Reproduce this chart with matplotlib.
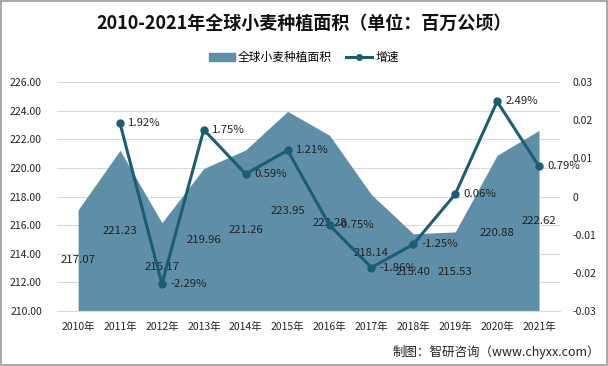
import matplotlib
matplotlib.use("Agg")
import matplotlib.pyplot as plt
from matplotlib.patches import Patch
from matplotlib.lines import Line2D

plt.rcParams["font.family"] = ["Noto Sans CJK SC", "DejaVu Sans"]

years = ["2010年", "2011年", "2012年", "2013年", "2014年", "2015年",
         "2016年", "2017年", "2018年", "2019年", "2020年", "2021年"]
area = [217.07, 221.23, 216.17, 219.96, 221.26, 223.95,
        222.28, 218.14, 215.40, 215.53, 220.88, 222.62]
growth = [None, 0.0192, -0.0229, 0.0175, 0.0059, 0.0121,
          -0.0075, -0.0186, -0.0125, 0.0006, 0.0249, 0.0079]
growth_labels = ["", "1.92%", "-2.29%", "1.75%", "0.59%", "1.21%",
                 "-0.75%", "-1.86%", "-1.25%", "0.06%", "2.49%", "0.79%"]
left_ticks = [210 + 2 * i for i in range(9)]
right_ticks = [-0.03, -0.02, -0.01, 0, 0.01, 0.02, 0.03]
right_tick_labels = ["-0.03", "-0.02", "-0.01", "0", "0.01", "0.02", "0.03"]

AREA_C = "#5F8FA7"
LINE_C = "#1A5E74"
TXT = "#222222"

fig = plt.figure(figsize=(6.08, 3.66), dpi=100)
ax = fig.add_axes([0.094, 0.150, 0.827, 0.626])
x = list(range(len(years)))

ax.fill_between(x, 210, area, color=AREA_C, lw=0, zorder=2)
ax.set_xlim(-0.5, len(years) - 0.5)
ax.set_ylim(210, 226)
ax.set_yticks(left_ticks)
ax.set_yticklabels([f"{v:.2f}" for v in left_ticks])
ax.set_xticks(x)
ax.set_xticklabels(years)
ax.grid(axis="y", color="#D9D9D9", lw=0.8, zorder=0)
ax.set_axisbelow(True)
for s in ["top", "right", "left"]:
    ax.spines[s].set_visible(False)
ax.spines["bottom"].set_color("#D9D9D9")
ax.tick_params(axis="y", length=0, labelsize=7.5, colors=TXT, pad=11)
ax.tick_params(axis="x", length=0, labelsize=7.5, colors=TXT, pad=8)

# area labels sit halfway between the axis floor and the value
for xi, v in zip(x, area):
    ax.text(xi, (v + 210) / 2, f"{v:.2f}", ha="center", va="center",
            fontsize=8.2, color=TXT, zorder=5)

ax2 = ax.twinx()
gx = [xi for xi, g in zip(x, growth) if g is not None]
gy = [g for g in growth if g is not None]
ax2.plot(gx, gy, color=LINE_C, lw=2.2, marker="o", ms=5, zorder=4)
ax2.set_ylim(-0.03, 0.03)
ax2.set_yticks(right_ticks)
ax2.set_yticklabels(right_tick_labels)
for s in ax2.spines.values():
    s.set_visible(False)
ax2.tick_params(length=0, labelsize=7.5, colors=TXT, pad=9)
for xi, g, lab in zip(x, growth, growth_labels):
    if g is None:
        continue
    ax2.annotate(lab, (xi, g), xytext=(6, 0), textcoords="offset points",
                 ha="left", va="center", fontsize=8.2, color=TXT, zorder=6)

fig.text(0.5, 0.937, "2010-2021年全球小麦种植面积（单位：百万公顷）",
         ha="center", va="center", fontsize=13, fontweight="bold", color="#111111")

handles = [Patch(color=AREA_C),
           Line2D([0], [0], color=LINE_C, lw=2.2, marker="o", ms=4)]
fig.legend(handles, ["全球小麦种植面积", "增速"], loc="center",
           bbox_to_anchor=(0.5, 0.843), ncol=2, frameon=False,
           fontsize=8.5, handlelength=2.2, columnspacing=1.2, handletextpad=0.3)

fig.text(0.987, 0.037, "制图：智研咨询（www.chyxx.com）", ha="right",
         va="center", fontsize=9, color=TXT)

fig.patches.append(plt.Rectangle((0.002, 0.003), 0.996, 0.994,
                                 transform=fig.transFigure, fill=False,
                                 ec="#999999", lw=1.2))

fig.savefig("out.png", dpi=100)
